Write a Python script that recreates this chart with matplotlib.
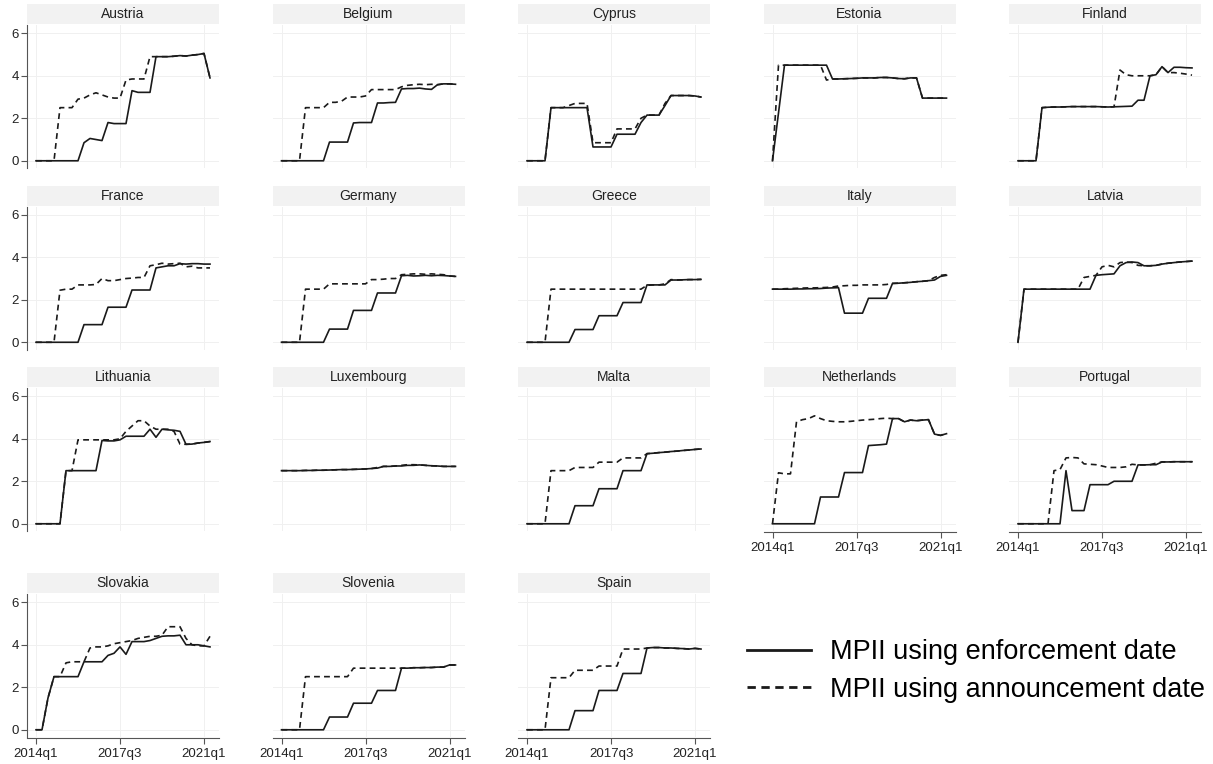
import numpy as np
import matplotlib.pyplot as plt
from matplotlib.patches import Rectangle
from matplotlib.lines import Line2D

plt.rcParams['font.family'] = ['Liberation Sans', 'DejaVu Sans']

# quarters 2014q1 .. 2021q2
quarters = np.arange(30)
tick_pos = [0, 14, 28]
tick_labels = ['2014q1', '2017q3', '2021q1']

# MPII, enforcement date (enf) and announcement date (ann)
austria_enf = [0,0,0,0,0,0,0,0,0.85,1.05,1.0,0.95,1.8,1.75,1.75,1.75,3.3,3.22,3.22,3.22,4.9,4.9,4.9,4.92,4.95,4.93,4.97,5.0,5.05,3.9]
austria_ann = [0,0,0,0,2.5,2.5,2.5,2.9,2.95,3.1,3.2,3.1,3.0,2.95,2.95,3.8,3.85,3.85,3.85,4.9,4.9,4.9,4.9,4.92,4.95,4.93,4.97,5.0,5.05,3.9]
belgium_enf = [0,0,0,0,0,0,0,0,0.88,0.88,0.88,0.88,1.78,1.8,1.8,1.8,2.72,2.72,2.74,2.75,3.38,3.4,3.4,3.42,3.38,3.36,3.58,3.62,3.62,3.6]
belgium_ann = [0,0,0,0,2.5,2.5,2.5,2.5,2.75,2.75,2.8,3.0,3.0,3.0,3.05,3.35,3.35,3.35,3.35,3.35,3.48,3.55,3.58,3.6,3.58,3.6,3.58,3.62,3.62,3.6]
cyprus_enf = [0,0,0,0,2.5,2.5,2.5,2.5,2.5,2.5,2.5,0.65,0.65,0.65,0.65,1.25,1.25,1.25,1.25,1.8,2.15,2.15,2.15,2.6,3.07,3.07,3.07,3.07,3.05,3.0]
cyprus_ann = [0,0,0,0,2.5,2.5,2.5,2.6,2.7,2.7,2.7,0.85,0.85,0.85,0.85,1.5,1.5,1.5,1.5,2.0,2.15,2.15,2.15,2.7,3.07,3.07,3.07,3.07,3.05,3.0]
estonia_enf = [0,2.25,4.5,4.5,4.5,4.5,4.5,4.5,4.5,4.5,3.85,3.85,3.86,3.87,3.88,3.9,3.9,3.9,3.92,3.92,3.9,3.87,3.86,3.9,3.9,2.95,2.95,2.95,2.95,2.95]
estonia_ann = [0,4.5,4.5,4.5,4.5,4.5,4.5,4.5,4.5,3.8,3.85,3.85,3.86,3.87,3.88,3.9,3.9,3.9,3.92,3.92,3.9,3.87,3.86,3.9,3.9,2.95,2.95,2.95,2.95,2.95]
finland_enf = [0,0,0,0,2.5,2.52,2.53,2.53,2.54,2.55,2.55,2.55,2.55,2.55,2.54,2.53,2.54,2.55,2.56,2.57,2.85,2.85,4.0,4.05,4.43,4.15,4.4,4.4,4.38,4.37]
finland_ann = [0,0,0,0,2.5,2.52,2.53,2.53,2.54,2.55,2.55,2.55,2.55,2.55,2.54,2.53,2.54,4.27,4.05,4.0,4.0,4.0,4.0,4.05,4.43,4.15,4.15,4.12,4.08,4.03]
france_enf = [0,0,0,0,0,0,0,0,0.83,0.83,0.83,0.83,1.65,1.65,1.65,1.65,2.46,2.46,2.46,2.46,3.5,3.55,3.6,3.6,3.7,3.68,3.7,3.7,3.68,3.68]
france_ann = [0,0,0,0,2.45,2.5,2.5,2.7,2.7,2.7,2.72,3.0,2.9,2.9,2.95,3.0,3.02,3.05,3.05,3.6,3.65,3.72,3.68,3.7,3.72,3.55,3.58,3.5,3.5,3.5]
germany_enf = [0,0,0,0,0,0,0,0,0.62,0.62,0.62,0.62,1.5,1.5,1.5,1.5,2.32,2.32,2.32,2.32,3.13,3.15,3.12,3.13,3.15,3.13,3.15,3.14,3.12,3.1]
germany_ann = [0,0,0,0,2.5,2.5,2.5,2.5,2.75,2.75,2.75,2.75,2.75,2.75,2.75,2.95,2.95,2.97,3.0,3.0,3.18,3.2,3.22,3.22,3.2,3.22,3.2,3.18,3.12,3.1]
greece_enf = [0,0,0,0,0,0,0,0,0.6,0.6,0.6,0.6,1.25,1.25,1.25,1.25,1.87,1.87,1.87,1.87,2.7,2.7,2.7,2.7,2.93,2.93,2.94,2.95,2.95,2.96]
greece_ann = [0,0,0,0,2.5,2.5,2.5,2.5,2.5,2.5,2.5,2.5,2.5,2.5,2.5,2.5,2.5,2.5,2.5,2.5,2.68,2.7,2.7,2.75,2.95,2.93,2.94,2.95,2.95,2.96]
italy_enf = [2.5,2.5,2.5,2.5,2.51,2.51,2.52,2.52,2.53,2.55,2.56,2.57,1.37,1.37,1.37,1.37,2.07,2.07,2.07,2.07,2.77,2.78,2.8,2.82,2.85,2.87,2.9,2.93,3.1,3.15]
italy_ann = [2.5,2.5,2.52,2.53,2.54,2.55,2.56,2.56,2.57,2.58,2.6,2.65,2.66,2.68,2.68,2.7,2.7,2.7,2.7,2.72,2.77,2.78,2.8,2.82,2.85,2.87,2.9,3.05,3.15,3.18]
latvia_enf = [0,2.5,2.5,2.5,2.5,2.5,2.5,2.5,2.5,2.5,2.5,2.5,2.5,3.15,3.18,3.2,3.22,3.6,3.75,3.78,3.75,3.6,3.6,3.62,3.68,3.72,3.75,3.78,3.8,3.82]
latvia_ann = [0,2.5,2.5,2.5,2.5,2.5,2.5,2.5,2.5,2.5,2.5,3.05,3.1,3.15,3.55,3.62,3.55,3.75,3.78,3.75,3.62,3.6,3.6,3.62,3.68,3.72,3.75,3.78,3.8,3.82]
lithuania_enf = [0,0,0,0,0,2.5,2.5,2.5,2.5,2.5,2.5,3.92,3.9,3.9,3.95,4.12,4.12,4.12,4.12,4.45,4.07,4.45,4.42,4.4,4.35,3.74,3.75,3.8,3.83,3.87]
lithuania_ann = [0,0,0,0,0,2.5,2.5,3.95,3.95,3.95,3.95,3.95,3.95,3.95,4.0,4.35,4.6,4.85,4.85,4.6,4.45,4.45,4.45,4.35,3.75,3.74,3.75,3.8,3.83,3.87]
luxembourg_enf = [2.5,2.5,2.5,2.5,2.51,2.51,2.52,2.52,2.53,2.54,2.55,2.55,2.56,2.57,2.58,2.6,2.62,2.7,2.7,2.72,2.72,2.75,2.75,2.77,2.75,2.73,2.72,2.7,2.7,2.7]
luxembourg_ann = [2.5,2.5,2.5,2.5,2.51,2.51,2.52,2.52,2.53,2.54,2.55,2.55,2.56,2.57,2.58,2.6,2.65,2.7,2.7,2.72,2.75,2.78,2.78,2.77,2.75,2.73,2.72,2.7,2.7,2.7]
malta_enf = [0,0,0,0,0,0,0,0,0.85,0.85,0.85,0.85,1.65,1.65,1.65,1.65,2.5,2.5,2.5,2.5,3.3,3.32,3.35,3.37,3.4,3.42,3.45,3.47,3.5,3.52]
malta_ann = [0,0,0,0,2.5,2.5,2.5,2.5,2.65,2.65,2.65,2.65,2.9,2.9,2.9,2.9,3.1,3.1,3.1,3.1,3.3,3.32,3.35,3.37,3.4,3.42,3.45,3.47,3.5,3.52]
netherlands_enf = [0,0,0,0,0,0,0,0,1.26,1.26,1.26,1.26,2.41,2.41,2.41,2.41,3.68,3.7,3.72,3.75,4.95,4.95,4.8,4.88,4.85,4.88,4.9,4.22,4.16,4.24]
netherlands_ann = [0,2.4,2.35,2.35,4.8,4.9,4.95,5.08,4.95,4.85,4.82,4.8,4.8,4.82,4.85,4.88,4.9,4.92,4.95,4.97,4.95,4.95,4.8,4.88,4.85,4.88,4.9,4.22,4.16,4.24]
portugal_enf = [0,0,0,0,0,0,0,0,2.5,0.62,0.62,0.62,1.84,1.84,1.84,1.84,2.0,2.0,2.0,2.0,2.77,2.77,2.78,2.78,2.91,2.91,2.92,2.92,2.92,2.92]
portugal_ann = [0,0,0,0,0,0,2.5,2.55,3.1,3.12,3.1,2.82,2.8,2.78,2.72,2.65,2.65,2.65,2.68,2.8,2.77,2.77,2.78,2.85,2.91,2.91,2.92,2.92,2.92,2.92]
slovakia_enf = [0,0,1.5,2.5,2.5,2.5,2.5,2.5,3.2,3.2,3.2,3.2,3.5,3.6,3.9,3.55,4.15,4.15,4.15,4.2,4.3,4.4,4.42,4.42,4.45,4.0,4.0,4.0,3.95,3.9]
slovakia_ann = [0,0,1.5,2.5,2.5,3.15,3.2,3.2,3.2,3.85,3.9,3.9,3.95,4.05,4.1,4.15,4.2,4.3,4.35,4.4,4.4,4.45,4.85,4.85,4.85,4.3,4.0,3.95,3.95,4.4]
slovenia_enf = [0,0,0,0,0,0,0,0,0.6,0.6,0.6,0.6,1.25,1.25,1.25,1.25,1.85,1.85,1.85,1.85,2.9,2.9,2.92,2.92,2.93,2.93,2.95,2.95,3.05,3.05]
slovenia_ann = [0,0,0,0,2.5,2.5,2.5,2.5,2.5,2.5,2.5,2.5,2.9,2.9,2.9,2.9,2.9,2.9,2.9,2.9,2.9,2.9,2.92,2.92,2.93,2.93,2.95,2.95,3.05,3.05]
spain_enf = [0,0,0,0,0,0,0,0,0.9,0.9,0.9,0.9,1.85,1.85,1.85,1.85,2.65,2.65,2.65,2.65,3.85,3.87,3.87,3.85,3.85,3.83,3.82,3.8,3.83,3.8]
spain_ann = [0,0,0,0,2.45,2.45,2.45,2.45,2.8,2.8,2.8,2.8,3.0,3.0,3.0,3.0,3.8,3.8,3.8,3.8,3.85,3.87,3.87,3.85,3.85,3.83,3.82,3.8,3.83,3.8]

panels = [
    ('Austria', austria_enf, austria_ann),
    ('Belgium', belgium_enf, belgium_ann),
    ('Cyprus', cyprus_enf, cyprus_ann),
    ('Estonia', estonia_enf, estonia_ann),
    ('Finland', finland_enf, finland_ann),
    ('France', france_enf, france_ann),
    ('Germany', germany_enf, germany_ann),
    ('Greece', greece_enf, greece_ann),
    ('Italy', italy_enf, italy_ann),
    ('Latvia', latvia_enf, latvia_ann),
    ('Lithuania', lithuania_enf, lithuania_ann),
    ('Luxembourg', luxembourg_enf, luxembourg_ann),
    ('Malta', malta_enf, malta_ann),
    ('Netherlands', netherlands_enf, netherlands_ann),
    ('Portugal', portugal_enf, portugal_ann),
    ('Slovakia', slovakia_enf, slovakia_ann),
    ('Slovenia', slovenia_enf, slovenia_ann),
    ('Spain', spain_enf, spain_ann),
]

W, H = 1213, 764
fig = plt.figure(figsize=(W / 100, H / 100), dpi=100)

row_top = [25, 206.5, 388, 594]  # pixel top of each row's plot area
pw, ph = 192, 143
strip_h = 20
line_col = '#1a1a1a'
axis_col = '#555555'

n = len(panels)
for i, (name, enf, ann) in enumerate(panels):
    r, c = divmod(i, 5)
    left = 27 + 245.5 * c
    top = row_top[r]
    ax = fig.add_axes([left / W, 1 - (top + ph) / H, pw / W, ph / H])

    ax.plot(quarters, ann, color=line_col, lw=1.2, ls=(0, (3.5, 2.5)))
    ax.plot(quarters, enf, color=line_col, lw=1.2)

    ax.set_xlim(-1.5, 30.5)
    ax.set_ylim(-0.34, 6.39)
    ax.set_xticks(tick_pos)
    ax.set_yticks([0, 2, 4, 6])
    ax.grid(color='#f0f0f0', lw=0.7)
    ax.set_axisbelow(True)

    for s in ['top', 'right']:
        ax.spines[s].set_visible(False)

    bottom_panel = i + 5 >= n
    if c == 0:
        ax.spines['left'].set_color(axis_col)
        ax.spines['left'].set_linewidth(0.8)
        ax.tick_params(axis='y', colors=axis_col, labelcolor='#222222',
                       labelsize=9.5, length=4, width=0.8, pad=2)
    else:
        ax.spines['left'].set_visible(False)
        ax.tick_params(axis='y', length=0, labelleft=False)

    if bottom_panel:
        ax.spines['bottom'].set_color(axis_col)
        ax.spines['bottom'].set_linewidth(0.8)
        ax.spines['bottom'].set_position(('outward', 1))
        ax.set_xticklabels(tick_labels)
        ax.tick_params(axis='x', colors=axis_col, labelcolor='#222222',
                       labelsize=9.5, length=4, width=0.8, pad=3)
    else:
        ax.spines['bottom'].set_visible(False)
        ax.tick_params(axis='x', length=0, labelbottom=False)

    # title strip
    ax.add_patch(Rectangle((0, 1 + 1 / ph), 1, strip_h / ph, transform=ax.transAxes,
                           facecolor='#f2f2f2', edgecolor='none', clip_on=False))
    ax.text(0.5, 1 + (1 + strip_h / 2) / ph, name, transform=ax.transAxes,
            ha='center', va='center', fontsize=10, color='#222222')

handles = [Line2D([], [], color=line_col, lw=2.0),
           Line2D([], [], color=line_col, lw=2.0, ls=(0, (3.0, 2.0)))]
fig.legend(handles, ['MPII using enforcement date', 'MPII using announcement date'],
           loc='center left', bbox_to_anchor=(747 / W, 1 - 671 / H),
           frameon=False, fontsize=19.5, handlelength=2.35, handletextpad=0.7,
           labelspacing=0.42, borderpad=0, borderaxespad=0)

fig.savefig('out.png', dpi=100, facecolor='white')
